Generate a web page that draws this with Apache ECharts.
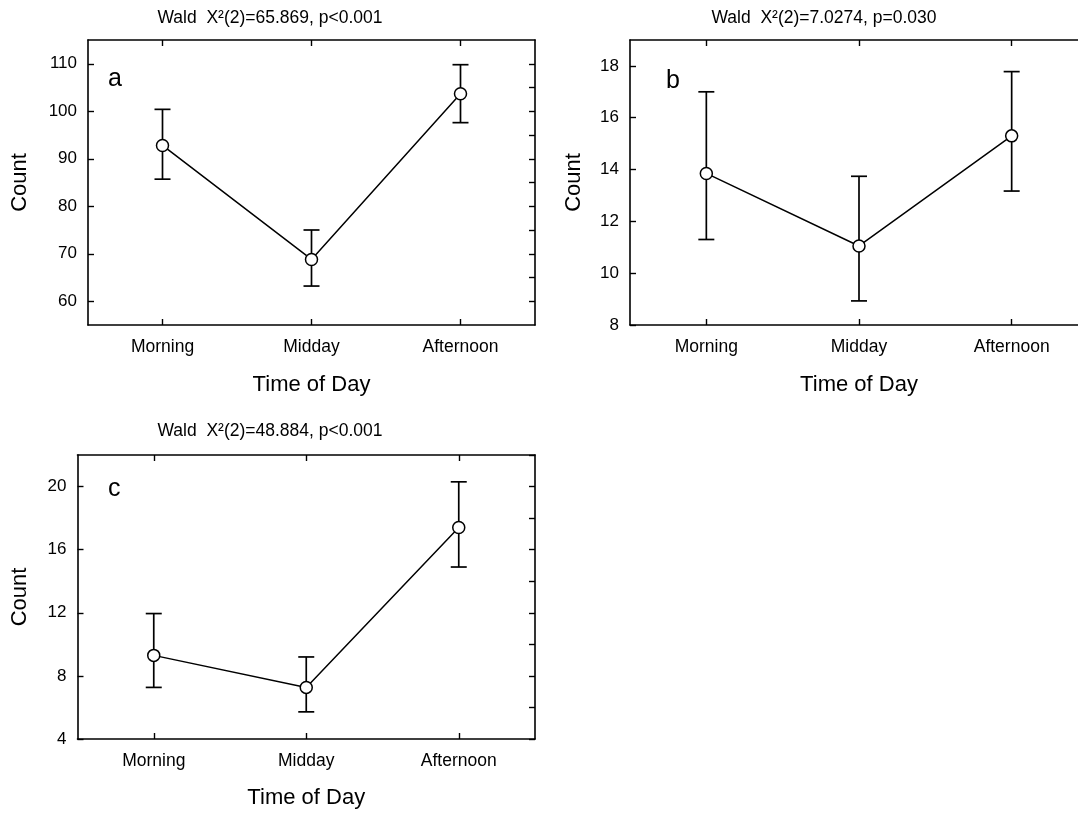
<!DOCTYPE html>
<html>
<head>
<meta charset="utf-8">
<script src="https://cdn.jsdelivr.net/npm/echarts@6/dist/echarts.min.js"></script>
<style>
  html, body { margin: 0; padding: 0; background: #fff; }
  #chart { width: 1078px; height: 814px; }
</style>
</head>
<body>
<div id="chart"></div>
<script>
// ---- data ----
const categories = ['Morning', 'Midday', 'Afternoon'];
const xTitle = 'Time of Day';
const yTitle = 'Count';
const titles = ['Wald  X\u00b2(2)=65.869, p<0.001', 'Wald  X\u00b2(2)=7.0274, p=0.030', 'Wald  X\u00b2(2)=48.884, p<0.001'];
const letters = ['a', 'b', 'c'];

// panel a
const meanA = [92.8, 68.8, 103.7];
const lowA = [85.7, 63.2, 97.6];
const highA = [100.4, 75.0, 109.8];
const rangeA = [55, 115];
const ticksA = [60, 70, 80, 90, 100, 110];
const minorTicksA = [60, 65, 70, 75, 80, 85, 90, 95, 100, 105, 110];

// panel b
const meanB = [13.85, 11.05, 15.3];
const lowB = [11.3, 8.93, 13.17];
const highB = [17.0, 13.74, 17.78];
const rangeB = [8, 19];
const ticksB = [8, 10, 12, 14, 16, 18];
const minorTicksB = [8, 9, 10, 11, 12, 13, 14, 15, 16, 17, 18, 19];

// panel c
const meanC = [9.3, 7.27, 17.4];
const lowC = [7.27, 5.72, 14.9];
const highC = [11.95, 9.2, 20.3];
const rangeC = [4, 22];
const ticksC = [4, 8, 12, 16, 20];
const minorTicksC = [4, 6, 8, 10, 12, 14, 16, 18, 20, 22];

// ---- layout ----
const FONT = '"Liberation Sans", Arial, Helvetica, sans-serif';
const INK = '#000';

const panels = [
  { mean: meanA, low: lowA, high: highA, range: rangeA, ticks: ticksA, minor: minorTicksA,
    title: titles[0], letter: letters[0],
    grid: { left: 88, top: 40, width: 447, height: 285 },
    yNameGap: 57, xNameGap: 49, titleX: 270, titleY: 18, letterX: 108, letterY: 79 },
  { mean: meanB, low: lowB, high: highB, range: rangeB, ticks: ticksB, minor: minorTicksB,
    title: titles[1], letter: letters[1],
    grid: { left: 630, top: 40, width: 458, height: 285 },
    yNameGap: 45, xNameGap: 49, titleX: 824, titleY: 18, letterX: 666, letterY: 81 },
  { mean: meanC, low: lowC, high: highC, range: rangeC, ticks: ticksC, minor: minorTicksC,
    title: titles[2], letter: letters[2],
    grid: { left: 77.5, top: 455, width: 457.5, height: 284 },
    yNameGap: 47, xNameGap: 48, titleX: 270, titleY: 431, letterX: 108, letterY: 489 }
];

const frameLine = { show: true, onZero: false, lineStyle: { color: INK, width: 1.6 } };
const tickStyle = { color: INK, width: 1.4 };

const grids = [], xAxes = [], yAxes = [], series = [], graphics = [];

panels.forEach((p, g) => {
  grids.push(Object.assign({ show: false, containLabel: false, outerBoundsMode: 'none' }, p.grid));

  // bottom category axis with labels and title
  xAxes.push({
    type: 'category', gridIndex: g, position: 'bottom', data: categories,
    axisLine: frameLine,
    axisTick: { show: true, inside: true, length: 6, alignWithLabel: true, lineStyle: tickStyle },
    axisLabel: { color: INK, fontFamily: FONT, fontSize: 17.5, margin: 13 },
    splitLine: { show: false },
    name: xTitle, nameLocation: 'middle', nameGap: p.xNameGap, nameMoveOverlap: false,
    nameTextStyle: { color: INK, fontFamily: FONT, fontSize: 22 }
  });
  // top frame edge with category ticks
  xAxes.push({
    type: 'category', gridIndex: g, position: 'top', data: categories,
    axisLine: frameLine,
    axisTick: { show: true, inside: true, length: 6, alignWithLabel: true, lineStyle: tickStyle },
    axisLabel: { show: false },
    splitLine: { show: false }
  });
  // left value axis
  yAxes.push({
    type: 'value', gridIndex: g, position: 'left', min: p.range[0], max: p.range[1],
    axisLine: frameLine,
    axisTick: { show: true, inside: true, length: 6, lineStyle: tickStyle, customValues: p.ticks },
    axisLabel: { color: INK, fontFamily: FONT, fontSize: 17, margin: 11, customValues: p.ticks,
                 showMinLabel: true, showMaxLabel: true },
    splitLine: { show: false },
    name: yTitle, nameLocation: 'middle', nameGap: p.yNameGap, nameMoveOverlap: false,
    nameTextStyle: { color: INK, fontFamily: FONT, fontSize: 22 }
  });
  // right frame edge with minor ticks
  yAxes.push({
    type: 'value', gridIndex: g, position: 'right', min: p.range[0], max: p.range[1],
    axisLine: frameLine,
    axisTick: { show: true, inside: true, length: 6, lineStyle: tickStyle, customValues: p.minor },
    axisLabel: { show: false },
    splitLine: { show: false }
  });

  // confidence bars
  series.push({
    type: 'custom', xAxisIndex: 2 * g, yAxisIndex: 2 * g, z: 2,
    data: categories.map((c, i) => [i, p.low[i], p.high[i]]),
    encode: { x: 0, y: [1, 2] },
    renderItem: (params, api) => {
      const i = api.value(0);
      const hi = api.coord([i, api.value(2)]);
      const lo = api.coord([i, api.value(1)]);
      const cap = 8;
      const style = { stroke: INK, lineWidth: 1.7 };
      return {
        type: 'group',
        children: [
          { type: 'line', shape: { x1: hi[0], y1: hi[1], x2: lo[0], y2: lo[1] }, style },
          { type: 'line', shape: { x1: hi[0] - cap, y1: hi[1], x2: hi[0] + cap, y2: hi[1] }, style },
          { type: 'line', shape: { x1: lo[0] - cap, y1: lo[1], x2: lo[0] + cap, y2: lo[1] }, style }
        ]
      };
    }
  });
  // means joined by a line
  series.push({
    type: 'line', xAxisIndex: 2 * g, yAxisIndex: 2 * g, z: 3,
    data: p.mean,
    symbol: 'circle', symbolSize: 12, showAllSymbol: true,
    lineStyle: { color: INK, width: 1.5 },
    itemStyle: { color: '#fff', borderColor: INK, borderWidth: 1.5 },
    emphasis: { disabled: true }
  });

  graphics.push({
    type: 'text', x: p.titleX, y: p.titleY,
    style: { text: p.title, font: '17.5px ' + FONT, fill: INK,
             align: 'center', verticalAlign: 'middle', textAlign: 'center', textVerticalAlign: 'middle' }
  });
  graphics.push({
    type: 'text', x: p.letterX, y: p.letterY,
    style: { text: p.letter, font: '25px ' + FONT, fill: INK,
             align: 'left', verticalAlign: 'middle', textAlign: 'left', textVerticalAlign: 'middle' }
  });
});

const chart = echarts.init(document.getElementById('chart'), null, { renderer: 'canvas' });
chart.setOption({
  backgroundColor: '#fff',
  animation: false,
  grid: grids,
  xAxis: xAxes,
  yAxis: yAxes,
  series: series,
  graphic: graphics
});
</script>
</body>
</html>
